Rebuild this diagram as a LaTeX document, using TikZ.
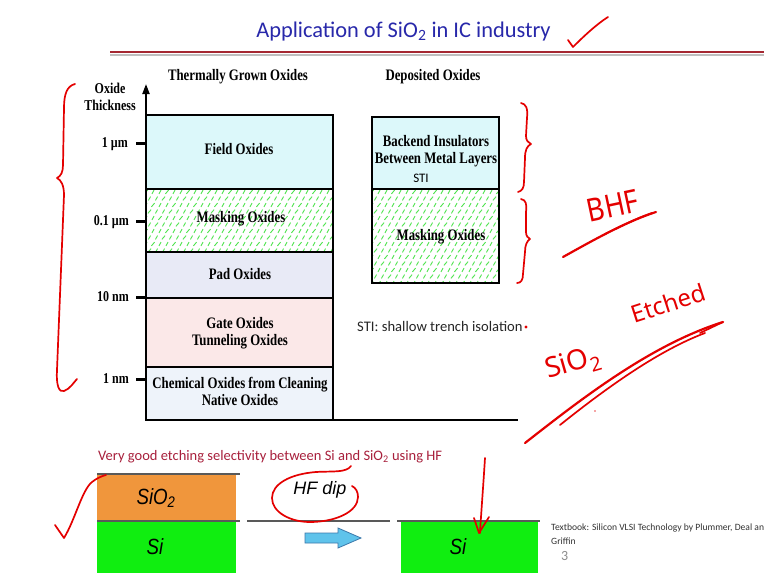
\documentclass[tikz,border=0pt]{standalone}
\usepackage{graphicx}
\usepackage{fontspec}
\setmainfont{Liberation Serif}
\newfontfamily\calfont{Carlito}
\newfontfamily\arialfont{Liberation Sans}
\newfontfamily\handfont{Noto Sans}
\usetikzlibrary{arrows.meta}

\definecolor{titleblue}{RGB}{40,40,170}
\definecolor{rulered}{RGB}{165,40,50}
\definecolor{inkred}{RGB}{228,0,0}
\definecolor{notered}{RGB}{168,32,60}
\definecolor{fieldc}{RGB}{220,248,250}
\definecolor{padc}{RGB}{232,234,246}
\definecolor{gatec}{RGB}{251,232,232}
\definecolor{chemc}{RGB}{238,243,250}
\definecolor{maskgreen}{RGB}{80,228,80}
\definecolor{oxorange}{RGB}{240,150,60}
\definecolor{sigreen}{RGB}{16,238,16}
\definecolor{arrowblue}{RGB}{95,195,235}
\definecolor{arrowedge}{RGB}{60,120,170}

% condensed bold serif labels
\newcommand\tb[2][16]{\scalebox{0.8}[1]{\fontsize{#1}{17}\selectfont\bfseries\begin{tabular}{@{}c@{}}#2\end{tabular}}}

% hatch of short green dashes inside a rectangle
\newcommand\maskfill[4]{%
  \begin{scope}
    \clip (#1,#2) rectangle (#3,#4);
    \foreach \i in {0,...,28}{
      \foreach \j in {0,...,15}{
        \pgfmathsetmacro\px{#1+\i*7+mod(\j,2)*3.5}
        \pgfmathsetmacro\py{#2+\j*6.5+3}
        \pgfmathsetmacro\dx{mod(\i+\j,3)==0 ? 1.6 : 1.1}
        \draw[maskgreen, line width=0.9pt] (\px-\dx,\py+1.9) -- (\px+\dx,\py-1.9);
      }
    }
  \end{scope}}

\begin{document}
\begin{tikzpicture}[x=1pt,y=-1pt,
  ink/.style={draw=inkred, line width=1.7pt, line cap=round, line join=round},
  oxbox/.style={draw=black, line width=2.6pt},
  tick/.style={draw=black, line width=3pt},
  lbl/.style={inner sep=0pt, text=black},
  layerline/.style={draw=black!65, line width=1.3pt}]

\useasboundingbox (0,0) rectangle (764,573);
\fill[white] (0,0) rectangle (764,573);

% ---- title and rule
\node[anchor=base, inner sep=0pt, text=titleblue, font=\calfont\fontsize{22.4}{26}\selectfont]
  (title) at (403.5,37) {Application of SiO\textsubscript{2} in IC industry};
\draw[black!25, line width=2pt] (110,55) -- (764,55);
\draw[rulered, line width=2.6pt] (110,52) -- (764,52);

% ---- column headings
\node[lbl] (thermal) at (238,77) {\tb{Thermally Grown Oxides}};
\node[lbl] (deposited) at (433,77) {\tb{Deposited Oxides}};
\node[lbl] (axistitle) at (110,99) {\tb[15]{Oxide\\Thickness}};

% ---- thermally grown oxide column
\fill[fieldc] (146,115) rectangle (333,189);
\maskfill{146}{189}{333}{252}
\fill[padc] (146,252) rectangle (333,298);
\fill[gatec] (146,298) rectangle (333,367);
\fill[chemc] (146,367) rectangle (333,420);
\draw[oxbox] (146,115) rectangle (333,420);
\foreach \yy in {189,252,298,367} \draw[oxbox] (146,\yy) -- (333,\yy);
\draw[oxbox] (146,420) -- (518,420);

% thickness axis
\draw[line width=2pt, -{Triangle[length=10pt,width=7pt]}] (146,116) -- (146,84);
\draw[tick] (136,143) -- (146,143);
\draw[tick] (136,221) -- (146,221);
\draw[tick] (136,297) -- (146,297);
\draw[tick] (136,379) -- (146,379);
\node[lbl, anchor=east] (t1um) at (128,144) {\tb[15]{1 µm}};
\node[lbl, anchor=east] (t01um) at (129,222) {\tb[15]{0.1 µm}};
\node[lbl, anchor=east] (t10nm) at (129,298) {\tb[15]{10 nm}};
\node[lbl, anchor=east] (t1nm) at (129,380) {\tb[15]{1 nm}};

\node[lbl] (field) at (239,151) {\tb{Field Oxides}};
\node[lbl] (maskL) at (241,219) {\tb{Masking Oxides}};
\node[lbl] (pad) at (240,276) {\tb{Pad Oxides}};
\node[lbl] (gate) at (240,334) {\tb{Gate Oxides\\Tunneling Oxides}};
\node[lbl] (chem) at (240,394) {\tb{Chemical Oxides from Cleaning\\Native Oxides}};

% ---- deposited oxide column
\fill[fieldc] (372,117) rectangle (499,189);
\maskfill{372}{189}{499}{283}
\draw[oxbox] (372,117) rectangle (499,283);
\draw[oxbox] (372,189) -- (499,189);
\node[lbl] (backend) at (436,152) {\tb{Backend Insulators\\Between Metal Layers}};
\node[lbl, anchor=base, font=\calfont\fontsize{13}{15}\selectfont] (sti) at (421,182) {STI};
\node[lbl] (maskR) at (441,237) {\tb{Masking Oxides}};

\node[lbl, anchor=base west, text=black!85, font=\calfont\fontsize{14.6}{16}\selectfont]
  (stinote) at (357,331) {STI: shallow trench isolation};
\fill[inkred] (526,327) circle (1.6);

% ---- HF dip illustration
\node[lbl, anchor=base west, text=notered, font=\calfont\fontsize{14.5}{17}\selectfont]
  (select) at (98,460) {Very good etching selectivity between Si and SiO\textsubscript{2} using HF};

\fill[oxorange] (97,474) rectangle (236,521);
\fill[sigreen] (97,521) rectangle (236,573);
\fill[sigreen] (401,521) rectangle (538,573);
\draw[layerline] (97,474) -- (240,474);
\draw[layerline] (97,521) -- (240,521);
\draw[layerline] (247,521) -- (390,521);
\draw[layerline] (397,521) -- (540,521);

\node[lbl, font=\arialfont\itshape\fontsize{22}{24}\selectfont] (sio2) at (156,498)
  {\scalebox{0.85}[1]{SiO\textsubscript{2}}};
\node[lbl, font=\arialfont\itshape\fontsize{22}{24}\selectfont] (siL) at (155,547)
  {\scalebox{0.85}[1]{Si}};
\node[lbl, font=\arialfont\itshape\fontsize{22}{24}\selectfont] (siR) at (458,547)
  {\scalebox{0.85}[1]{Si}};
\node[lbl, font=\arialfont\itshape\fontsize{18}{20}\selectfont] (hfdip) at (320,490) {HF dip};

\draw[fill=arrowblue, draw=arrowedge, line width=0.8pt]
  (305,533) -- (338,533) -- (338,528) -- (361,538) -- (338,548) -- (338,543) -- (305,543) -- cycle;

\node[lbl, anchor=base west, text=black!80, font=\calfont\fontsize{9.6}{11}\selectfont]
  (book1) at (551,530) {Textbook: Silicon VLSI Technology by Plummer, Deal an};
\node[lbl, anchor=base west, text=black!80, font=\calfont\fontsize{9.6}{11}\selectfont]
  (book2) at (551,544) {Griffin};
\node[lbl, anchor=base west, text=black!45, font=\calfont\fontsize{14}{16}\selectfont]
  (page) at (561,560) {3};

% ---- red ink annotations
% check after the title
\draw[ink] (568,40) -- (573,47) .. controls (585,35) and (597,24) .. (608,17);
% large brace beside the thermal column
\draw[ink] (75,84) .. controls (67,86) and (64,94) .. (64,108) -- (63,165)
  .. controls (63,172) and (61,176) .. (57,178)
  .. controls (61,180) and (64,185) .. (64,195) -- (57,370)
  .. controls (56,385) and (59,393) .. (64,391) .. controls (70,389) and (74,382) .. (77,379);
% braces beside the deposited column
\draw[ink] (521,103) .. controls (526,104) and (528,108) .. (527,118) -- (526,136)
  .. controls (526,140) and (528,143) .. (531,144)
  .. controls (527,146) and (525,150) .. (525,158) -- (524,182)
  .. controls (524,188) and (522,191) .. (518,192);
\draw[ink] (521,199) .. controls (526,200) and (527,204) .. (526,212) -- (526,232)
  .. controls (526,236) and (528,238) .. (530,239)
  .. controls (527,241) and (525,245) .. (525,252) -- (523,274)
  .. controls (523,280) and (521,283) .. (517,283);
% BHF with underline
\node[inner sep=0pt, text=inkred, rotate=12, font=\handfont\fontsize{32}{34}\selectfont] (bhf) at (613,206) {\scalebox{0.85}[1]{BHF}};
\draw[ink, line width=2.2pt] (563,257) .. controls (590,242) and (625,222) .. (656,212);
\draw[ink] (605,234) .. controls (625,224) and (640,217) .. (652,213);
% SiO2 etched with stroke
\node[inner sep=0pt, text=inkred, rotate=16, font=\handfont\fontsize{28}{30}\selectfont] (sio2ink) at (573,364) {SiO\textsubscript{2}};
\node[inner sep=0pt, text=inkred, rotate=18, font=\handfont\fontsize{24}{26}\selectfont] (etched) at (668,303) {Etched};
\draw[ink, line width=2.2pt] (525,443) .. controls (580,400) and (650,345) .. (723,322);
\draw[ink] (560,425) .. controls (610,385) and (660,350) .. (705,333);
\draw[ink] (723,322) -- (700,333);
\fill[inkred!70] (595,411) circle (0.8);
% ring around "HF dip"
\draw[ink] (351,466) .. controls (346,473) and (332,471) .. (316,472)
  .. controls (290,474) and (272,484) .. (272,498)
  .. controls (272,512) and (290,522) .. (310,522)
  .. controls (335,522) and (358,512) .. (358,497)
  .. controls (358,492) and (356,488) .. (352,486);
% arrow down to the bare silicon
\draw[ink] (485,458) .. controls (483,490) and (481,515) .. (480,533);
\draw[ink] (474,518) -- (479,533) -- (489,517);
% check beside the oxide stack
\draw[ink] (55,525) -- (64,538) .. controls (75,520) and (82,490) .. (92,482)
  .. controls (97,478) and (102,476) .. (106,475);
\end{tikzpicture}
\end{document}
